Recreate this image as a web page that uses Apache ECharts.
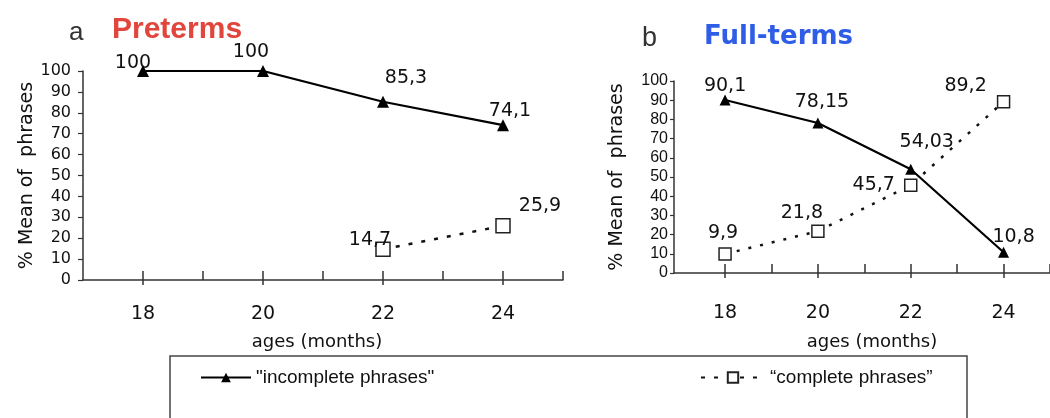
<!DOCTYPE html>
<html>
<head>
<meta charset="utf-8">
<script src="https://cdn.jsdelivr.net/npm/echarts@6/dist/echarts.min.js"></script>
<style>html,body{margin:0;padding:0;background:#fff}#c{width:1050px;height:418px}</style>
</head>
<body>
<div id="c"></div>
<script>
// ---- data ----
const ages = [18, 20, 22, 24];
const xTickLabels = [18, 20, 22, 24];
const pretermIncomplete = [100, 100, 85.3, 74.1];
const pretermComplete = [null, null, 14.7, 25.9];
const fulltermIncomplete = [90.1, 78.15, 54.03, 10.8];
const fulltermComplete = [9.9, 21.8, 45.7, 89.2];
const seriesNames = ['"incomplete phrases"', '\u201Ccomplete phrases\u201D'];
const panelLetters = ['a', 'b'];
const panelTitles = ['Preterms', 'Full-terms'];
const xAxisName = 'ages (months)';
const yAxisName = '% Mean of  phrases';

// ---- options ----
const FONT = 'DejaVu Sans';
const fmt = v => String(v).replace('.', ',');
const labelOffsets = {
  pi: [[-10, -8], [-12, -19], [23, -24], [7, -14]],
  pc: [null, null, [-13, -9], [37, -20]],
  fi: [[0, -14], [4, -21], [16, -27], [10, -15]],
  fc: [[-2, -21], [-16, -18], [-37, 0], [-38, -16]]
};
function makeData(vals, offs) {
  const out = [];
  vals.forEach((v, i) => {
    if (v === null) return;
    out.push({ value: [ages[i], v], label: { offset: offs[i] } });
  });
  return out;
}
const lbl = { show: true, position: 'inside', formatter: p => fmt(p.value[1]),
  fontFamily: FONT, fontSize: 19, color: '#111', align: 'center', verticalAlign: 'middle' };

function incSeries(vals, offs, xi, yi, size) {
  return { name: seriesNames[0], type: 'line', xAxisIndex: xi, yAxisIndex: yi,
    data: makeData(vals, offs), symbol: 'triangle', symbolSize: size,
    itemStyle: { color: '#000' }, lineStyle: { color: '#000', width: 2.2 },
    label: lbl, z: 4, animation: false };
}
function compSeries(vals, offs, xi, yi, size, dash) {
  return { name: seriesNames[1], type: 'line', xAxisIndex: xi, yAxisIndex: yi,
    data: makeData(vals, offs), symbol: 'rect', symbolSize: size,
    itemStyle: { color: '#fff', borderColor: '#222', borderWidth: 1.5 },
    lineStyle: { color: '#111', width: 2.5, type: dash },
    label: lbl, z: 3, animation: false };
}
function mainX(g, min, labelMargin, nameGap, namePad) {
  return { type: 'value', gridIndex: g, min: min, max: 25, position: 'bottom',
    axisLine: { show: true, onZero: false, lineStyle: { color: '#333', width: 1.5 } },
    axisTick: { show: true, inside: true, length: 9, customValues: [18, 19, 20, 21, 22, 23, 24, 25],
      lineStyle: { color: '#333', width: 1.5 } },
    axisLabel: { customValues: xTickLabels, fontFamily: FONT, fontSize: 19, color: '#111', margin: labelMargin },
    splitLine: { show: false },
    name: xAxisName, nameLocation: 'middle', nameGap: nameGap,
    nameTextStyle: { fontFamily: FONT, fontSize: 18, color: '#111', padding: namePad } };
}
function crossX(g, min) {
  return { type: 'value', gridIndex: g, min: min, max: 25, position: 'bottom',
    axisLine: { show: false, onZero: false },
    axisTick: { show: true, inside: false, length: 5, customValues: xTickLabels,
      lineStyle: { color: '#333', width: 1.5 } },
    axisLabel: { show: false }, splitLine: { show: false } };
}
function mainY(g, labelFont, margin, tickLen, nameGap) {
  return { type: 'value', gridIndex: g, min: 0, max: 100, interval: 10,
    axisLine: { show: true, lineStyle: { color: '#333', width: 1.5 } },
    axisTick: { show: true, length: tickLen, lineStyle: { color: '#333', width: 1.2 } },
    axisLabel: { fontFamily: labelFont, fontSize: 16, color: '#111', margin: margin },
    splitLine: { show: false },
    name: yAxisName, nameLocation: 'middle', nameRotate: 90, nameGap: nameGap,
    nameTextStyle: { fontFamily: FONT, fontSize: 19, color: '#111' } };
}

const option = {
  backgroundColor: '#fff',
  animation: false,
  title: [
    { text: panelLetters[0], left: 64, top: 15, textStyle: { fontFamily: 'Liberation Sans', fontSize: 26, fontWeight: 'normal', color: '#333' } },
    { text: panelTitles[0], left: 107, top: 10, textStyle: { fontFamily: 'Liberation Sans', fontSize: 30, fontWeight: 'bold', color: '#e2453c' } },
    { text: panelLetters[1], left: 637, top: 20, textStyle: { fontFamily: 'Liberation Sans', fontSize: 27, fontWeight: 'normal', color: '#333' } },
    { text: panelTitles[1], left: 699, top: 19, textStyle: { fontFamily: 'DejaVu Sans', fontSize: 26, fontWeight: 'bold', color: '#2f5de6' } }
  ],
  graphic: [
    { type: 'rect', shape: { x: 170, y: 356, width: 797, height: 100 }, style: { fill: 'none', stroke: '#444', lineWidth: 1.5 }, z: 0 }
  ],
  legend: [
    { data: [seriesNames[0]], left: 200, top: 368, itemWidth: 50, itemHeight: 12, padding: 0,
      textStyle: { fontFamily: 'Liberation Sans', fontSize: 19, color: '#111' } },
    { data: [seriesNames[1]], left: 700, top: 368, itemWidth: 64, itemHeight: 13, padding: 0,
      textStyle: { fontFamily: 'Liberation Sans', fontSize: 19, color: '#111' } }
  ],
  grid: [
    { left: 83, top: 71, width: 480, height: 209 },
    { left: 674, top: 81, width: 378, height: 192 }
  ],
  xAxis: [
    mainX(0, 17, 25, 53, [0, 12, 0, 0]),
    crossX(0, 17),
    mainX(1, 16.9, 31, 60, [0, 0, 0, 20]),
    crossX(1, 16.9)
  ],
  yAxis: [
    mainY(0, FONT, 12, 5, 44),
    mainY(1, 'Liberation Sans', 6, 4, 47)
  ],
  series: [
    incSeries(pretermIncomplete, labelOffsets.pi, 0, 0, 12),
    compSeries(pretermComplete, labelOffsets.pc, 0, 0, 14, [4, 9]),
    incSeries(fulltermIncomplete, labelOffsets.fi, 2, 1, 11),
    compSeries(fulltermComplete, labelOffsets.fc, 2, 1, 12, [3, 9])
  ]
};
const chart = echarts.init(document.getElementById('c'), null, { renderer: 'canvas' });
chart.setOption(option);
</script>
</body>
</html>
